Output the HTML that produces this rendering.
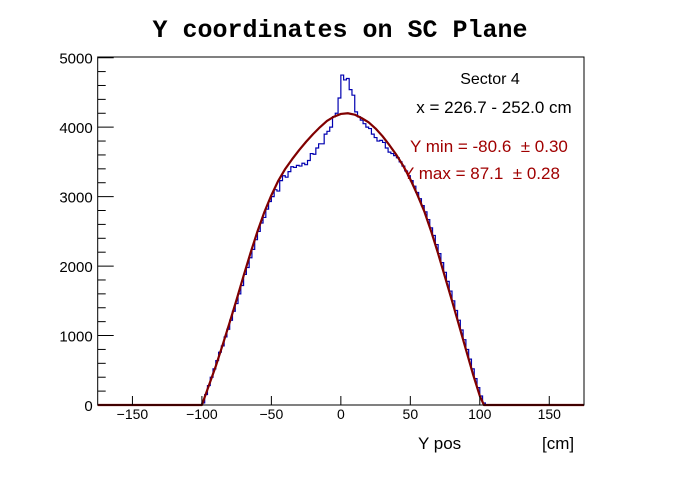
<!DOCTYPE html>
<html><head><meta charset="utf-8"><style>
body{margin:0;background:#fff;}
svg text{font-family:"Liberation Sans",sans-serif;white-space:pre;}
</style></head><body>
<svg id="c" width="696" height="472" xmlns="http://www.w3.org/2000/svg">
<rect width="696" height="472" fill="#fff"/>
<text x="340" y="37" text-anchor="middle" style="font-family:'Liberation Mono',monospace;font-weight:bold;font-size:25px">Y coordinates on SC Plane</text>
<g id="plot"></g>
<text x="490" y="84" text-anchor="middle" font-size="16">Sector 4</text>
<text x="494" y="113" text-anchor="middle" font-size="17">x = 226.7 - 252.0 cm</text>
<text x="410" y="152" font-size="17" fill="#a00000" xml:space="preserve">Y min = -80.6  ± 0.30</text>
<text x="403" y="179" font-size="17" fill="#a00000" xml:space="preserve">Y max = 87.1  ± 0.28</text>
<text x="418" y="449" font-size="17">Y pos</text>
<text x="542" y="449" font-size="17">[cm]</text>
</svg>
<script>
const xTicks=[-150,-100,-50,0,50,100,150];
const yTicks=[0,1000,2000,3000,4000,5000];
const histStart=-100;
const histBinWidth=2;
const histCounts=[30,150,280,400,520,640,760,850,980,1090,1220,1350,1460,1600,1720,1880,1980,2120,2240,2380,2500,2620,2700,2820,2930,3000,3100,3080,3230,3300,3280,3360,3430,3420,3450,3440,3480,3460,3520,3620,3610,3700,3760,3760,3900,3940,4000,4150,4200,4420,4750,4680,4700,4540,4460,4220,4150,4100,4050,4000,3980,3900,3850,3800,3810,3780,3700,3640,3620,3590,3560,3500,3440,3370,3300,3230,3150,3060,2970,2870,2780,2670,2550,2440,2310,2180,2050,1910,1780,1640,1500,1360,1220,1080,940,800,660,520,380,250,130,30];
const fitX=[-175,-100,-95,-90,-85,-80,-75,-70,-65,-60,-55,-50,-45,-40,-35,-30,-25,-20,-15,-10,-5,0,5,10,15,20,25,30,35,40,45,50,55,60,65,70,75,80,85,90,95,100,103,175];
const fitY=[0,0,280,560,870,1190,1520,1860,2190,2500,2780,3020,3230,3400,3540,3670,3790,3900,4000,4090,4150,4190,4200,4180,4130,4070,3980,3870,3740,3600,3440,3250,3030,2790,2500,2180,1840,1500,1150,800,450,130,0,0];
const L=97.7,R=584,T=57,B=405,xmin=-175,xmax=175,ymin=0,ymax=5010;
const sx=v=>L+(v-xmin)/(xmax-xmin)*(R-L);
const sy=v=>B-(v-ymin)/(ymax-ymin)*(B-T);
const NS='http://www.w3.org/2000/svg';
const g=document.getElementById('plot');
function mk(t,a){const e=document.createElementNS(NS,t);for(const k in a)e.setAttribute(k,a[k]);g.appendChild(e);return e;}
let d='M'+sx(histStart)+','+sy(0);
histCounts.forEach((c,i)=>{const x0=sx(histStart+i*histBinWidth),x1=sx(histStart+(i+1)*histBinWidth);d+=' L'+x0+','+sy(c)+' L'+x1+','+sy(c);});
d+=' L'+sx(histStart+histCounts.length*histBinWidth)+','+sy(0);
const h=mk('path',{d:d,fill:'none',stroke:'#0000b0','stroke-width':1.2});


const f=mk('polyline',{points:fitX.map((x,i)=>sx(x)+','+sy(fitY[i])).join(' '),fill:'none',stroke:'#800000','stroke-width':2.2,'stroke-linejoin':'round'});


const fr=mk('rect',{x:L,y:T,width:R-L,height:B-T,fill:'none',stroke:'#000','stroke-width':1});


for(let v=0;v<=5000;v+=200){const major=v%1000===0;mk('line',{x1:L,x2:L+(major?16:8),y1:sy(v),y2:sy(v),stroke:'#000'});}
yTicks.forEach(v=>{const t=mk('text',{x:L-5,y:sy(v)+6,'text-anchor':'end','font-size':15});t.textContent=v;

});
xTicks.forEach(v=>{mk('line',{x1:sx(v),x2:sx(v),y1:B,y2:B-9,stroke:'#000'});});
xTicks.forEach(v=>{const t=mk('text',{x:sx(v),y:B+14,'text-anchor':'middle','font-size':14});t.textContent=v<0?'\u2212'+(-v):v;

});
</script>
</body></html>
